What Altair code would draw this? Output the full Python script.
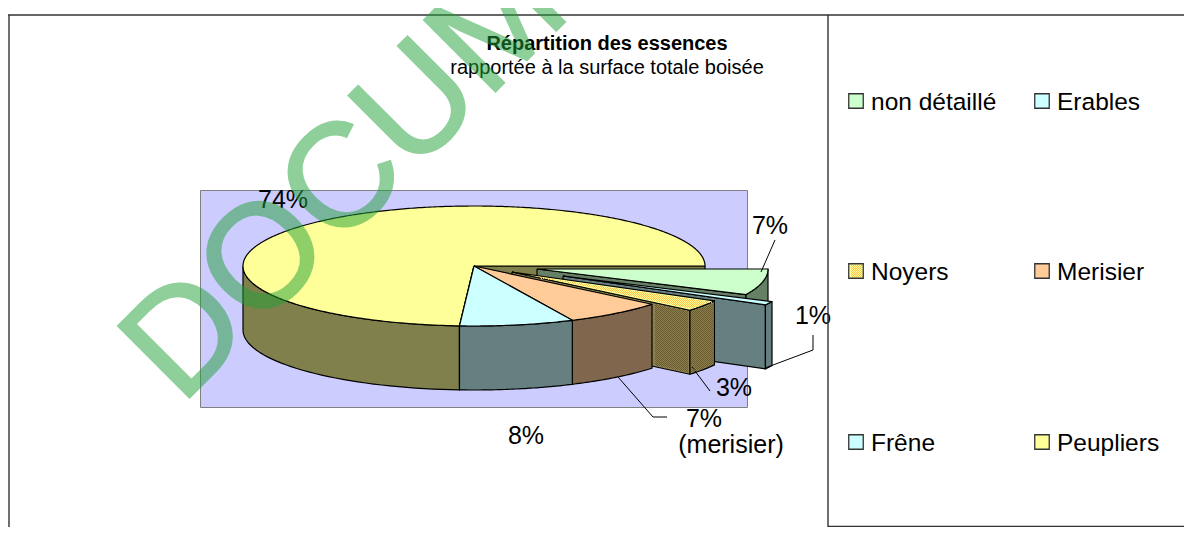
import numpy as np
import pandas as pd
import altair as alt

# ---- chart values -----------------------------------------------------
slices = ["Peuplier", "Frêne", "Merisier", "Noyers", "Erables", "non détaillé"]
shares = [74, 8, 7, 3, 1, 7]
top_colors = ["#FFFF99", "#CCFFFF", "#FFCC99", "#FFFF99", "#CCFFFF", "#CCFFCC"]
side_colors = ["#80804C", "#667F80", "#80664C", "#8C8050", "#667F80", "#668066"]
legend_labels = ["non détaillé", "Erables", "Noyers", "Merisier", "Frêne", "Peupliers"]
legend_colors = ["#CCFFCC", "#CCFFFF", "#FFFF99", "#FFCC99", "#CCFFFF", "#FFFF99"]
label_texts = ["74%", "8%", "7%", "1%", "3%", "7%", "(merisier)"]
title_text = "Répartition des essences"
subtitle_text = "rapportée à la surface totale boisée"
watermark = "DOCUMENT"
NOYERS = 3
DOT_TOP, DOT_SIDE = "#FFC24D", "#6A5A2E"

# ---- layout ------------------------------------------------------------
W, H = 1176, 519
CX, CY, RX, RY, DEPTH = 474, 266, 231, 60, 64
explode = [(0, 0), (0, 0), (0, 0), (38, 6), (89, 10), (63, 3)]
paint_order = [0, 5, 4, 3, 2, 1]
FONT = "Liberation Sans"

x_sc = alt.Scale(domain=[8, 8 + W], range=[0, W], nice=False, zero=False)
y_sc = alt.Scale(domain=[8 + H, 8], nice=False, zero=False)
X = lambda f="x": alt.X(f"{f}:Q", scale=x_sc, axis=None)
Y = lambda f="y": alt.Y(f"{f}:Q", scale=y_sc, axis=None)

# ---- pie geometry derived from the shares -------------------------------
edges = np.concatenate([[0], np.cumsum(shares)]) / sum(shares) * 360.0
rows, pid = [], 0
hatch = []


def add(points, fill):
    global pid
    points = list(points) + [points[0]]
    for i, (px, py) in enumerate(points):
        rows.append(dict(pid=pid, i=i, x=px, y=py, fill=fill))
    pid += 1


def rim(t, dx, dy, down=0):
    r = np.radians(t)
    return CX + dx + RX * np.cos(r), CY + dy - RY * np.sin(r) + down


def dots(points, color, xmin=None):
    """Checker texture inside a polygon: one dashed vertical per pixel column."""
    pts = list(points) + [points[0]]
    xs = [p[0] for p in pts]
    for col in range(int(min(xs)) + 2, int(max(xs)) - 1):
        if xmin is not None and col < xmin:
            continue
        hits = []
        for (x1, y1), (x2, y2) in zip(pts[:-1], pts[1:]):
            if (x1 - col) * (x2 - col) < 0:
                hits.append(y1 + (y2 - y1) * (col - x1) / (x2 - x1))
        if len(hits) >= 2 and max(hits) - min(hits) > 2:
            top = np.ceil(min(hits) + 1)
            top += (col + top) % 2
            hatch.append(dict(x=col + 0.5, y=top, y2=np.floor(max(hits) - 1), c=color))


for k in paint_order:
    a, b = edges[k], edges[k + 1]
    dx, dy = explode[k]
    apex = (CX + dx, CY + dy)
    # radial cut face at the start angle
    s = rim(a, dx, dy)
    face = [apex, s, (s[0], s[1] + DEPTH), (apex[0], apex[1] + DEPTH)]
    add(face, side_colors[k])
    if k == NOYERS:
        dots(face, DOT_SIDE, xmin=655)
    # outer wall: only the front half of the rim shows
    lo, hi = max(a, 180), min(b, 360)
    if hi > lo:
        ts = np.linspace(lo, hi, 40)
        wall = [rim(t, dx, dy) for t in ts] + [rim(t, dx, dy, DEPTH) for t in ts[::-1]]
        add(wall, side_colors[k])
        if k == NOYERS:
            dots(wall, DOT_SIDE)
    # top face
    ts = np.linspace(a, b, max(6, int((b - a) * 1.5)))
    tp = [apex] + [rim(t, dx, dy) for t in ts]
    add(tp, top_colors[k])
    if k == NOYERS:
        dots(tp, DOT_TOP)

pie = pd.DataFrame(rows)
pie_layer = (
    alt.Chart(pie)
    .mark_line(stroke="#000000", strokeWidth=1.2, strokeJoin="round")
    .encode(
        x=X(), y=Y(),
        fill=alt.Fill("fill:N", scale=None),
        detail="pid:N",
        order=alt.Order("i:Q"),
    )
)

# ---- legend swatch texture uses the same helper -----------------------
dots([(849, 264), (863, 264), (863, 278), (849, 278)], DOT_TOP)
hatch_layer = alt.Chart(pd.DataFrame(hatch)).mark_rule(strokeWidth=1, strokeDash=[1, 1]).encode(
    x=X(), y=Y(), y2="y2:Q", color=alt.Color("c:N", scale=None)
)

# ---- frames ------------------------------------------------------------
def seg(x1, y1, x2, y2, color="#333333", w=1.4):
    return alt.Chart(pd.DataFrame({"x": [x1], "y": [y1], "x2": [x2], "y2": [y2]})).mark_rule(
        color=color, strokeWidth=w
    ).encode(x=X(), y=Y(), x2="x2:Q", y2="y2:Q")


plot_bg = alt.Chart(pd.DataFrame({"x": [200.5], "y": [190.5], "x2": [747.5], "y2": [407.5]})).mark_rect(
    fill="#CCCCFF", stroke="#808080", strokeWidth=1
).encode(x=X(), y=Y(), x2="x2:Q", y2="y2:Q")

frames = [
    seg(8, 15, 1184, 15),
    seg(9, 15, 9, 527),
    seg(828, 15, 828, 527),
    seg(828, 526.5, 1184, 526.5),
]

# ---- leaders -----------------------------------------------------------
leaders = pd.DataFrame(
    [
        (0, 0, 761, 272), (0, 1, 775, 240),
        (1, 0, 765, 368), (1, 1, 813, 350), (1, 2, 813, 335),
        (2, 0, 692, 367), (2, 1, 710, 391),
        (3, 0, 618, 377), (3, 1, 653, 417), (3, 2, 667, 417),
    ],
    columns=["l", "i", "x", "y"],
)
leader_layer = alt.Chart(leaders).mark_line(color="#000000", strokeWidth=1).encode(
    x=X(), y=Y(), detail="l:N", order=alt.Order("i:Q")
)

# ---- labels ------------------------------------------------------------
lab = pd.DataFrame(
    {
        "t": label_texts,
        "x": [283, 526, 770, 813, 734, 704, 731],
        "y": [200, 436, 226, 316, 388, 419, 445],
    }
)
label_layer = alt.Chart(lab).mark_text(
    font=FONT, fontSize=25, color="#000000", align="center", baseline="middle"
).encode(x=X(), y=Y(), text="t:N")

titles = pd.DataFrame({"t": [title_text], "x": [607], "y": [44]})
title_layer = alt.Chart(titles).mark_text(
    font=FONT, fontSize=20, fontWeight="bold", color="#000000", align="center", baseline="middle"
).encode(x=X(), y=Y(), text="t:N")
subs = pd.DataFrame({"t": [subtitle_text], "x": [607], "y": [68]})
sub_layer = alt.Chart(subs).mark_text(
    font=FONT, fontSize=20, color="#000000", align="center", baseline="middle"
).encode(x=X(), y=Y(), text="t:N")

# ---- legend ------------------------------------------------------------
leg = pd.DataFrame(
    {
        "t": legend_labels,
        "c": legend_colors,
        "x": [856, 1042] * 3,
        "y": [101, 101, 271, 271, 442, 442],
        "ty": [103, 103, 273, 273, 444, 444],
    }
)
leg["tx"] = leg["x"] + 15
leg_sw = alt.Chart(leg).mark_point(
    shape="square", filled=True, size=210, stroke="#333333", strokeWidth=1.3, opacity=1
).encode(x=X(), y=Y(), fill=alt.Fill("c:N", scale=None))
leg_tx = alt.Chart(leg).mark_text(
    font=FONT, fontSize=24.5, color="#000000", align="left", baseline="middle"
).encode(x=X("tx"), y=Y("ty"), text="t:N")

# ---- watermark ---------------------------------------------------------
wm = pd.DataFrame({"t": [watermark], "x": [181], "y": [406]})
wm_layer = alt.Chart(wm).mark_text(
    font=FONT, fontSize=147, color="#22A038", opacity=0.5, stroke="#22A038", strokeWidth=2,
    align="left", baseline="alphabetic", angle=315,
).encode(x=X(), y=Y(), text="t:N")

chart = alt.layer(
    plot_bg, pie_layer, leader_layer, label_layer, title_layer, sub_layer,
    *frames, leg_sw, hatch_layer, leg_tx, wm_layer,
).properties(
    width=W, height=H, padding=0, autosize=alt.AutoSizeParams(type="none")
).configure_view(stroke=None)

chart.save("out.html", embed_options={"renderer": "svg", "actions": False})
